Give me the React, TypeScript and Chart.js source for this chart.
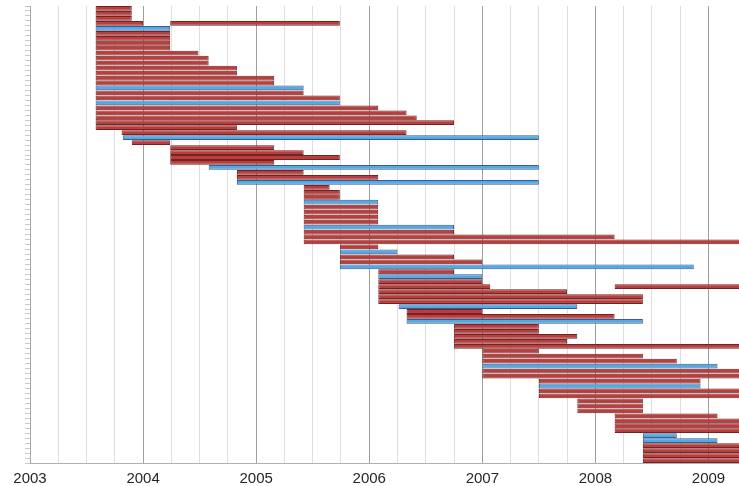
import React, { useEffect, useRef } from "react";
import { Chart, registerables } from "chart.js";

Chart.register(...registerables);

// Row kinds: R = red task, B = blue task
const rowKinds: string[] = [
  "R","R","R","R","B","R","R","R","R","R",
  "R","R","R","R","R","R","B","R","R","B",
  "R","R","R","R","R","R","B","R","R","R",
  "R","R","B","R","R","B","R","R","R","B",
  "R","R","R","R","B","R","R","R","R","B",
  "R","R","B","R","B","R","R","R","R","R",
  "B","R","R","B","R","R","R","R","R","R",
  "R","R","B","R","R","R","B","R","R","R",
  "R","R","R","R","R","R","B","B","R","R",
  "R","R",
];

// Start dates (decimal years)
const rowStarts: number[] = [
  2003.58, 2003.58, 2003.58, 2003.58, 2003.58, 2003.58, 2003.58, 2003.58, 2003.58, 2003.58,
  2003.58, 2003.58, 2003.58, 2003.58, 2003.58, 2003.58, 2003.58, 2003.58, 2003.58, 2003.58,
  2003.58, 2003.58, 2003.58, 2003.58, 2003.58, 2003.81, 2003.82, 2003.90, 2004.24, 2004.24,
  2004.24, 2004.24, 2004.58, 2004.83, 2004.83, 2004.83, 2005.42, 2005.42, 2005.42, 2005.42,
  2005.42, 2005.42, 2005.42, 2005.42, 2005.42, 2005.42, 2005.42, 2005.42, 2005.74, 2005.74,
  2005.74, 2005.74, 2005.74, 2006.08, 2006.08, 2006.08, 2006.08, 2006.08, 2006.08, 2006.08,
  2006.26, 2006.33, 2006.33, 2006.33, 2006.75, 2006.75, 2006.75, 2006.75, 2006.75, 2007.00,
  2007.00, 2007.00, 2007.00, 2007.00, 2007.00, 2007.50, 2007.50, 2007.50, 2007.50, 2007.84,
  2007.84, 2007.84, 2008.17, 2008.17, 2008.17, 2008.17, 2008.42, 2008.42, 2008.42, 2008.42,
  2008.42, 2008.42,
];

// End dates (decimal years)
const rowEnds: number[] = [
  2003.90, 2003.90, 2003.90, 2004.00, 2004.24, 2004.24, 2004.24, 2004.24, 2004.24, 2004.49,
  2004.58, 2004.58, 2004.83, 2004.83, 2005.16, 2005.16, 2005.42, 2005.42, 2005.74, 2005.74,
  2006.08, 2006.33, 2006.42, 2006.75, 2004.83, 2006.33, 2007.50, 2004.24, 2005.16, 2005.42,
  2005.74, 2005.16, 2007.50, 2005.42, 2006.08, 2007.50, 2005.65, 2005.74, 2005.74, 2006.08,
  2006.08, 2006.08, 2006.08, 2006.08, 2006.75, 2006.75, 2008.17, 2009.40, 2006.08, 2006.25,
  2006.75, 2007.00, 2008.87, 2006.75, 2007.00, 2007.00, 2007.07, 2007.75, 2008.42, 2008.42,
  2007.84, 2007.00, 2008.17, 2008.42, 2007.50, 2007.50, 2007.84, 2007.75, 2009.40, 2007.50,
  2008.42, 2008.72, 2009.08, 2009.40, 2009.40, 2008.93, 2008.93, 2009.40, 2009.40, 2008.42,
  2008.42, 2008.42, 2009.08, 2009.40, 2009.40, 2009.40, 2008.72, 2009.08, 2009.40, 2009.40,
  2009.40, 2009.40,
];

// Second segments sharing a row (row index, start, end)
const extraRows: number[] = [3, 56];
const extraStarts: number[] = [2004.24, 2008.17];
const extraEnds: number[] = [2005.74, 2009.40];

const xMin = 2003;
const xMax = 2009.27;

export default function App() {
  const canvasRef = useRef<HTMLCanvasElement | null>(null);

  useEffect(() => {
    const canvas = canvasRef.current;
    if (!canvas) return;
    const labels = rowKinds.map((_, i) => String(i + 1));
    const redData = rowKinds.map((k, i) => (k === "R" ? [rowStarts[i], rowEnds[i]] : null));
    const blueData = rowKinds.map((k, i) => (k === "B" ? [rowStarts[i], rowEnds[i]] : null));
    const extraData = rowKinds.map((_, i) => {
      const j = extraRows.indexOf(i);
      return j >= 0 ? [extraStarts[j], extraEnds[j]] : null;
    });

    const isYear = (v: number) => Math.abs(v - Math.round(v)) < 1e-6;

    const chart = new Chart(canvas, {
      type: "bar",
      data: {
        labels,
        datasets: [
          {
            label: "red",
            data: redData as any,
            backgroundColor: "#b73f3d",
            borderColor: "#762222",
            borderWidth: 1,
            borderSkipped: false,
          },
          {
            label: "blue",
            data: blueData as any,
            backgroundColor: "#55a9e2",
            borderColor: "#3a5a96",
            borderWidth: 1,
            borderSkipped: false,
          },
          {
            label: "red2",
            data: extraData as any,
            backgroundColor: "#b73f3d",
            borderColor: "#762222",
            borderWidth: 1,
            borderSkipped: false,
          },
        ],
      },
      options: {
        indexAxis: "y",
        animation: false,
        responsive: false,
        maintainAspectRatio: false,
        layout: { padding: { left: 25, top: 6, right: 0, bottom: 0 } },
        datasets: {
          bar: {
            grouped: false,
            barPercentage: 1,
            categoryPercentage: 0.96,
          },
        },
        plugins: {
          legend: { display: false },
          tooltip: { enabled: false },
        },
        scales: {
          x: {
            type: "linear",
            min: xMin,
            max: xMax,
            afterFit: (scale: any) => {
              scale.height = 23;
              scale.paddingLeft = 0;
              scale.paddingRight = 0;
            },
            ticks: {
              stepSize: 0.25,
              autoSkip: false,
              maxRotation: 0,
              padding: 7,
              color: "#262626",
              font: { family: "'Liberation Sans', Arial, sans-serif", size: 15 },
              callback: (v: any) => (isYear(Number(v)) ? String(Math.round(Number(v))) : ""),
            },
            grid: {
              drawTicks: false,
              color: (ctx: any) =>
                ctx.tick && isYear(ctx.tick.value) ? "#a0a0a0" : "#dedede",
              lineWidth: 1,
            },
            border: { display: true, color: "#b0b0b0" },
          },
          y: {
            type: "category",
            ticks: { display: false },
            grid: {
              drawOnChartArea: false,
              drawTicks: true,
              tickLength: 5,
              color: "#c8c8c8",
            },
            border: { display: true, color: "#a8a8a8" },
          },
        },
      },
    });
    return () => chart.destroy();
  }, []);

  return (
    <div style={{ position: "absolute", left: 0, top: 0, width: 739, height: 486, background: "#ffffff", overflow: "hidden" }}>
      <canvas ref={canvasRef} width={739} height={486} style={{ display: "block" }} />
    </div>
  );
}
